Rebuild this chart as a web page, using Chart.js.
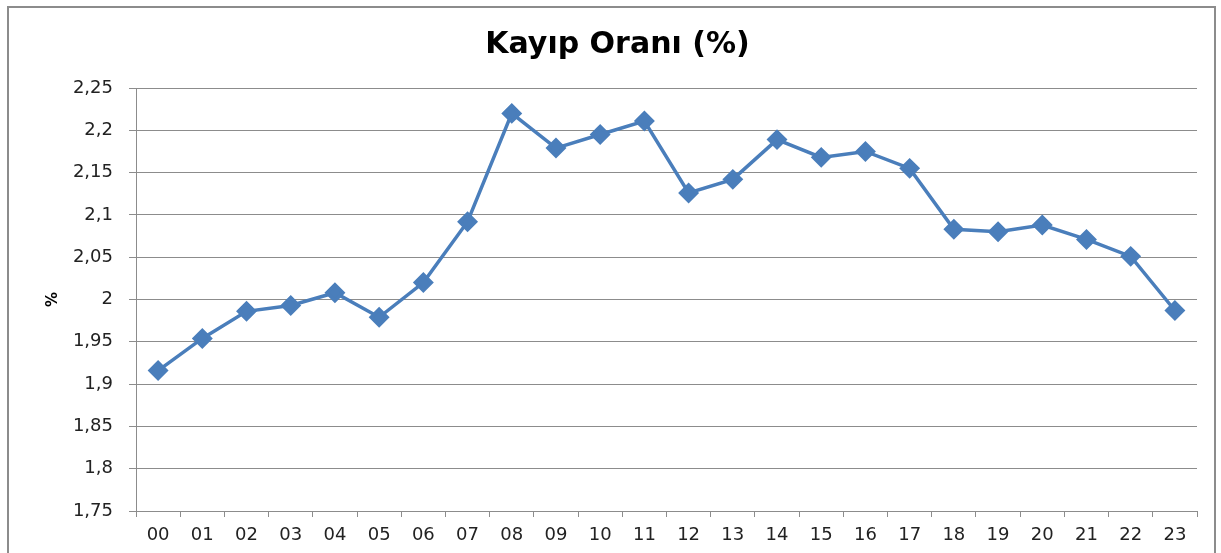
<!DOCTYPE html>
<html>
<head>
<meta charset="utf-8">
<script src="https://cdn.jsdelivr.net/npm/chart.js@4"></script>
<style>
  html, body { margin: 0; padding: 0; background: #fff; }
  #wrap { position: relative; width: 1221px; height: 553px; overflow: hidden; }
  #frame { position: absolute; left: 7px; top: 6px; width: 1209px; height: 600px; border: 2px solid #8c8c8c; box-sizing: border-box; }
  #loss-chart { position: absolute; left: 0; top: 0; }
</style>
</head>
<body>
<div id="wrap">
  <div id="frame"></div>
  <canvas id="loss-chart" width="1221" height="553"></canvas>
</div>
<script>
  const hours = ['00', '01', '02', '03', '04', '05', '06', '07', '08', '09', '10', '11',
                 '12', '13', '14', '15', '16', '17', '18', '19', '20', '21', '22', '23'];
  const lossRate = [1.916, 1.954, 1.986, 1.993, 2.008, 1.979, 2.020, 2.092, 2.220, 2.179, 2.195, 2.211,
                    2.126, 2.142, 2.189, 2.168, 2.175, 2.155, 2.083, 2.080, 2.088, 2.071, 2.051, 1.987];
  const yMin = 1.75;
  const yMax = 2.25;
  const yStep = 0.05;

  const gridGrey = '#8c8c8c';
  const tickFont = { family: 'DejaVu Sans', size: 18 };

  const dataL = {
    labels: hours,
    datasets: [{
      label: 'Kayıp Oranı',
      data: lossRate,
      borderColor: '#4a7ebb',
      backgroundColor: '#4a7ebb',
      borderWidth: 3.5,
      pointStyle: 'rectRot',
      pointRadius: 8,
      pointHoverRadius: 8,
      tension: 0,
      fill: false
    }]
  };

  const configL = {
    type: 'line',
    data: dataL,
    options: {
      responsive: false,
      animation: false,
      layout: { padding: { left: 38, right: 24, top: 0, bottom: 0 } },
      plugins: {
        legend: { display: false },
        tooltip: { enabled: false },
        title: {
          display: true,
          text: 'Kayıp Oranı (%)',
          color: '#000',
          font: { family: 'DejaVu Sans', size: 30, weight: 'bold' },
          padding: { top: 27, bottom: 25 }
        }
      },
      scales: {
        x: {
          offset: true,
          border: { color: gridGrey, width: 1 },
          grid: { offset: true, drawOnChartArea: false, drawTicks: true, tickLength: 6, color: gridGrey },
          ticks: { color: '#222', font: tickFont, padding: 8, maxRotation: 0, autoSkip: false },
          afterFit: (axis) => { axis.height = 42; }
        },
        y: {
          min: yMin,
          max: yMax,
          border: { color: gridGrey, width: 1 },
          grid: { color: gridGrey, tickLength: 7 },
          ticks: {
            stepSize: yStep,
            color: '#222',
            font: tickFont,
            padding: 16,
            callback: (v) => parseFloat(v.toFixed(2)).toString().replace('.', ',')
          },
          title: {
            display: true,
            text: '%',
            color: '#000',
            font: { family: 'DejaVu Sans', size: 15, weight: 'bold' },
            padding: { top: 6, bottom: 0 }
          },
          afterFit: (axis) => { axis.width = 98; }
        }
      }
    }
  };

  let lossObj = document.getElementById('loss-chart');

  let lossChart = new Chart(lossObj, configL);
</script>
</body>
</html>
